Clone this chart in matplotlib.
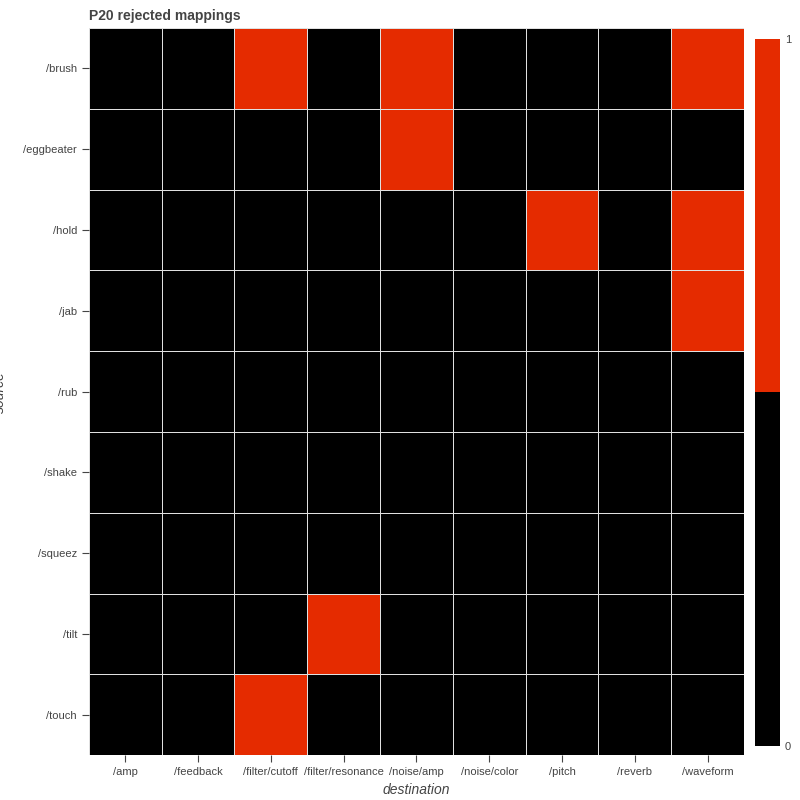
import numpy as np
import matplotlib.pyplot as plt
from matplotlib.colors import ListedColormap, BoundaryNorm

plt.rcParams['font.family'] = ['Liberation Sans', 'DejaVu Sans']

sources = ["/brush", "/eggbeater", "/hold", "/jab", "/rub", "/shake", "/squeez", "/tilt", "/touch"]
destinations = ["/amp", "/feedback", "/filter/cutoff", "/filter/resonance", "/noise/amp",
                "/noise/color", "/pitch", "/reverb", "/waveform"]
rejected = [
    [0, 0, 1, 0, 1, 0, 0, 0, 1],
    [0, 0, 0, 0, 1, 0, 0, 0, 0],
    [0, 0, 0, 0, 0, 0, 1, 0, 1],
    [0, 0, 0, 0, 0, 0, 0, 0, 1],
    [0, 0, 0, 0, 0, 0, 0, 0, 0],
    [0, 0, 0, 0, 0, 0, 0, 0, 0],
    [0, 0, 0, 0, 0, 0, 0, 0, 0],
    [0, 0, 0, 1, 0, 0, 0, 0, 0],
    [0, 0, 1, 0, 0, 0, 0, 0, 0],
]

red = "#e52b00"
cmap = ListedColormap(["black", red])
norm = BoundaryNorm([0, 0.5, 1], 2)
txt = "#444444"

fig = plt.figure(figsize=(8, 8), dpi=100)
ax = fig.add_axes([0.111, 0.056, 0.819, 0.909])
data = np.array(rejected)
ax.pcolormesh(np.arange(len(destinations) + 1), np.arange(len(sources) + 1), data,
              cmap=cmap, norm=norm, edgecolors="#e0e0e0", linewidth=0.7)
ax.set_xlim(0, len(destinations))
ax.set_ylim(len(sources), 0)
ax.set_xticks(np.arange(len(destinations)) + 0.5)
ax.set_xticklabels(destinations, fontsize=8, color=txt)
ax.set_yticks(np.arange(len(sources)) + 0.5)
ax.set_yticklabels(sources, fontsize=8, color=txt)
ax.tick_params(colors=txt, length=5, labelcolor=txt)
for s in ax.spines.values():
    s.set_visible(False)
ax.set_xlabel("destination", fontsize=10, style="italic", color=txt, labelpad=4)
ax.set_ylabel("source", fontsize=10, style="italic", color=txt, labelpad=12)
fig.text(0.111, 0.975, "P20 rejected mappings", fontsize=10, weight="bold", color=txt)

cax = fig.add_axes([0.944, 0.0675, 0.031, 0.884])
cax.imshow(np.array([[1], [1], [0], [0]]), cmap=cmap, norm=norm, aspect="auto",
           extent=[0, 1, 0, 1])
cax.set_xticks([])
cax.yaxis.tick_right()
cax.set_yticks([0, 1])
cax.set_yticklabels(["0", "1"], fontsize=8, color=txt)
cax.tick_params(length=0)
for s in cax.spines.values():
    s.set_visible(False)

fig.savefig("out.png", dpi=100)
